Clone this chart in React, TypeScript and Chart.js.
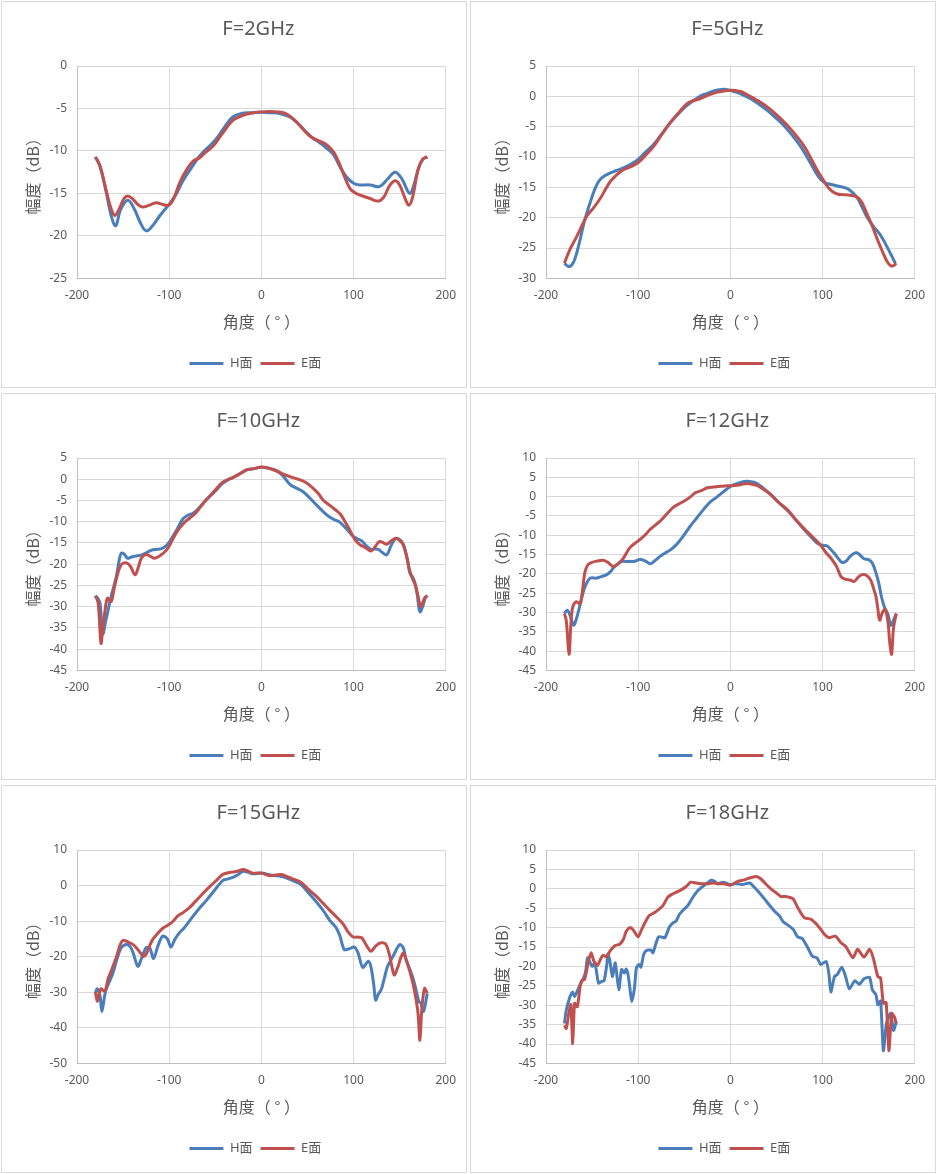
import { useEffect, useRef } from 'react';
import Chart from 'chart.js/auto';

const H_COLOR = '#4a7ebb';
const E_COLOR = '#c0504d';
const TEXT_COLOR = '#595959';
const FONT = "'Noto Sans', 'Noto Sans CJK SC', sans-serif";
const CJK_FONT = "'Noto Sans CJK SC', 'Noto Sans', sans-serif";

const X_TICKS = [-200, -100, 0, 100, 200];
const SERIES_NAMES = ['H面', 'E面'];

// F=2GHz
const ANG_2G_H = [-180, -175, -168, -163, -158, -153, -145, -138, -131, -125, -118, -110, -101, -93, -85, -76, -67, -58, -49, -40, -31, -22, -10, 0, 10, 20, 31, 40, 49, 56, 63, 70, 78, 85, 92, 100, 107, 118, 128, 137, 145, 152, 161, 166, 170, 175, 180];
const H_2G = [-10.7, -11.8, -15.0, -17.6, -18.8, -17.0, -15.8, -16.8, -18.5, -19.4, -18.8, -17.6, -16.4, -15.2, -13.5, -12.0, -10.6, -9.6, -8.6, -7.2, -6.0, -5.6, -5.5, -5.45, -5.5, -5.6, -6.0, -6.8, -7.8, -8.5, -9.0, -9.6, -10.4, -11.8, -13.0, -13.8, -14.0, -14.0, -14.2, -13.3, -12.5, -13.2, -15.0, -13.8, -12.2, -11.0, -10.7];
const ANG_2G_E = [-180, -175, -168, -163, -159, -155, -149, -145, -140, -134, -129, -122, -114, -107, -101, -96, -88, -81, -74, -67, -60, -52, -42, -31, -22, -13, 0, 8, 16, 24, 31, 40, 52, 60, 70, 76, 81, 88, 96, 103, 110, 118, 127, 133, 139, 145, 150, 156, 160, 164, 170, 175, 180];
const E_2G = [-10.7, -11.8, -14.8, -16.8, -17.6, -17.0, -15.6, -15.3, -15.6, -16.3, -16.6, -16.4, -16.1, -16.3, -16.4, -15.8, -13.6, -12.2, -11.2, -10.8, -10.1, -9.4, -7.9, -6.4, -5.9, -5.6, -5.4, -5.35, -5.4, -5.5, -5.9, -6.8, -8.2, -8.7, -9.2, -9.8, -10.6, -12.4, -14.4, -15.0, -15.3, -15.6, -15.9, -15.4, -14.1, -13.5, -14.0, -15.6, -16.4, -15.5, -12.2, -11.0, -10.7];

// F=5GHz
const ANG_5G_H = [-180, -176, -172, -168, -163, -158, -151, -145, -140, -134, -125, -116, -108, -100, -92, -83, -74, -65, -56, -47, -40, -33, -25, -18, -12, -7, -2, 4, 13, 22, 31, 40, 49, 58, 67, 76, 84, 91, 96, 101, 106, 112, 120, 127, 133, 138, 143, 149, 156, 163, 170, 175, 179];
const H_5G = [-27.5, -28.0, -27.8, -26.5, -23.6, -20.4, -17.0, -14.6, -13.5, -12.9, -12.3, -11.8, -11.2, -10.4, -9.2, -7.9, -6.1, -4.3, -2.8, -1.5, -0.7, 0, 0.5, 0.9, 1.1, 1.15, 1.05, 0.8, 0.3, -0.4, -1.3, -2.3, -3.5, -4.8, -6.4, -8.2, -10.2, -12.1, -13.3, -14.1, -14.4, -14.6, -14.9, -15.2, -15.9, -16.8, -18.3, -20.1, -21.6, -22.9, -24.8, -26.3, -27.5];
const ANG_5G_E = [-180, -174, -167, -160, -156, -148, -141, -135, -130, -123, -116, -108, -100, -92, -83, -74, -65, -56, -47, -40, -33, -24, -14, -6, 0, 6, 11, 18, 25, 34, 43, 52, 62, 71, 80, 87, 94, 100, 105, 110, 116, 123, 130, 136, 141, 145, 148, 153, 157, 162, 166, 170, 174, 177, 180];
const E_5G = [-27.5, -25.2, -23.2, -21.0, -19.8, -18.3, -16.8, -15.2, -14.0, -12.9, -12.1, -11.6, -10.9, -9.7, -8.2, -6.2, -4.3, -2.7, -1.2, -0.7, -0.4, 0.2, 0.7, 0.9, 1.0, 0.95, 0.8, 0.3, -0.3, -1.1, -2.1, -3.3, -4.8, -6.4, -8.2, -10.1, -12.1, -13.6, -14.8, -15.6, -16.1, -16.2, -16.3, -16.5, -17.1, -18.2, -19.3, -21.0, -22.6, -24.5, -25.9, -27.2, -27.9, -27.9, -27.5];

// F=10GHz
const ANG_10G_H = [-180, -177, -175, -172, -169, -167, -164, -161, -157, -154, -152, -149, -145, -141, -137, -130, -124, -118, -112, -107, -103, -99, -92, -85, -80, -74, -67, -60, -51, -42, -36, -31, -24, -16, -8, 0, 8, 16, 23, 31, 38, 45, 52, 60, 67, 74, 80, 85, 92, 99, 104, 109, 114, 119, 123, 127, 131, 136, 141, 145, 150, 154, 158, 161, 164, 166, 169, 172, 175, 178, 180];
const H_10G = [-27.4, -28.2, -29.2, -36.4, -33.5, -31.6, -28.5, -26.0, -22.5, -18.8, -17.4, -17.6, -18.6, -18.3, -18.1, -17.8, -17.2, -16.6, -16.5, -16.2, -15.6, -14.5, -12.0, -9.3, -8.5, -8.0, -6.6, -4.9, -3.0, -1.0, -0.1, 0.4, 1.2, 2.2, 2.5, 2.8, 2.6, 2.1, 0.9, -1.2, -2.1, -2.9, -4.3, -6.1, -7.6, -8.9, -9.6, -10.1, -11.6, -13.3, -14.0, -14.5, -15.7, -16.5, -16.4, -16.5, -17.2, -17.8, -15.5, -14.1, -14.2, -15.3, -18.5, -22.0, -23.0, -24.0, -27.0, -31.2, -30.0, -27.8, -27.4];
const ANG_10G_E = [-180, -177, -174, -172, -170, -167, -163, -160, -157, -152, -146, -142, -137, -133, -130, -125, -120, -116, -110, -103, -97, -92, -86, -81, -72, -66, -60, -51, -42, -31, -24, -16, -8, 0, 8, 16, 24, 31, 37, 43, 50, 56, 62, 67, 74, 81, 86, 90, 95, 99, 103, 107, 113, 119, 124, 128, 132, 136, 141, 146, 150, 154, 158, 161, 164, 167, 170, 173, 177, 180];
const E_10G = [-27.4, -29.2, -38.6, -35.0, -31.6, -28.0, -28.8, -26.0, -23.2, -20.1, -19.7, -20.5, -22.5, -20.4, -18.5, -17.7, -18.2, -18.6, -18.0, -16.7, -14.5, -12.5, -10.8, -9.7, -8.1, -6.5, -4.9, -2.8, -0.7, 0.4, 1.2, 2.2, 2.5, 2.9, 2.6, 2.0, 1.2, 0.6, 0.2, -0.2, -1.0, -2.1, -3.4, -4.9, -6.1, -7.3, -8.3, -9.7, -11.6, -13.3, -14.6, -15.4, -16.1, -16.9, -15.7, -14.7, -14.9, -15.3, -14.5, -13.9, -14.4, -15.5, -18.5, -21.6, -23.4, -24.8, -27.5, -30.0, -28.0, -27.4];

// F=12GHz
const ANG_12G_H = [-180, -177, -174, -170, -167, -163, -159, -155, -152, -145, -140, -134, -130, -127, -122, -118, -111, -105, -98, -92, -87, -82, -76, -70, -65, -58, -51, -44, -36, -29, -22, -14, -7, 0, 4, 11, 18, 24, 29, 36, 43, 52, 62, 71, 80, 87, 94, 100, 105, 112, 117, 121, 125, 130, 136, 140, 145, 150, 154, 158, 161, 164, 167, 171, 174, 177, 180];
const H_12G = [-30.3, -29.4, -30.7, -33.3, -31.6, -28.0, -24.2, -22.0, -21.1, -21.1, -20.7, -20.2, -19.4, -18.5, -17.4, -16.8, -16.8, -16.8, -16.3, -16.7, -17.4, -16.6, -15.4, -14.5, -13.8, -12.3, -10.2, -7.8, -5.4, -3.3, -1.4, 0.0, 1.35, 2.6, 3.1, 3.7, 4.0, 3.8, 3.4, 2.1, 0.7, -1.4, -3.6, -6.0, -8.5, -10.3, -12.0, -12.6, -12.8, -14.5, -16.0, -17.0, -16.8, -15.5, -14.5, -15.0, -16.1, -16.3, -17.2, -19.8, -22.4, -26.0, -28.5, -30.5, -33.3, -32.0, -30.3];
const ANG_12G_E = [-180, -178, -175, -173, -171, -167, -163, -160, -158, -155, -152, -145, -138, -133, -127, -121, -116, -109, -103, -98, -92, -87, -80, -76, -69, -62, -55, -49, -43, -38, -31, -25, -18, -11, -4, 4, 11, 18, 24, 29, 36, 43, 52, 62, 71, 80, 89, 98, 104, 109, 115, 120, 125, 130, 134, 139, 143, 147, 152, 155, 158, 160, 162, 165, 168, 171, 173, 175, 177, 180];
const E_12G = [-30.3, -32.1, -40.8, -33.0, -28.6, -27.2, -27.7, -23.5, -19.8, -17.8, -17.2, -16.7, -16.5, -17.0, -18.1, -17.2, -15.9, -13.2, -12.0, -11.1, -9.8, -8.5, -7.1, -6.3, -4.5, -2.8, -1.8, -1.0, 0.0, 1.0, 1.6, 2.3, 2.5, 2.7, 2.8, 2.9, 3.1, 3.4, 3.2, 2.9, 1.9, 0.7, -1.4, -3.4, -6.0, -8.3, -10.4, -12.6, -14.6, -15.9, -18.0, -20.7, -21.4, -21.6, -22.0, -20.8, -20.2, -20.3, -21.5, -23.5, -25.9, -29.0, -32.0, -30.0, -29.2, -32.5, -38.0, -40.8, -34.0, -30.3];

// F=15GHz
const ANG_15G_H = [-180, -178, -175, -173, -170, -168, -164, -161, -157, -152, -146, -142, -139, -134, -130, -125, -121, -117, -112, -107, -102, -98, -94, -89, -84, -74, -67, -60, -51, -42, -36, -31, -25, -20, -14, -9, 0, 6, 13, 20, 27, 34, 42, 51, 60, 67, 74, 78, 81, 85, 90, 95, 101, 105, 110, 116, 119, 122, 124, 127, 130, 133, 137, 143, 150, 154, 157, 161, 164, 167, 171, 173, 176, 180];
const H_15G = [-30.3, -29.0, -31.0, -35.4, -31.0, -28.9, -26.5, -24.6, -21.0, -17.5, -16.6, -17.3, -19.0, -22.7, -20.5, -17.5, -17.6, -20.5, -16.8, -14.2, -15.0, -17.3, -15.2, -13.3, -12.0, -8.6, -6.3, -4.3, -1.4, 1.4, 1.9, 2.3, 3.1, 4.0, 3.7, 3.3, 3.5, 3.2, 2.8, 2.7, 2.2, 1.4, 0.5, -2.0, -4.7, -7.0, -9.7, -10.9, -11.8, -14.0, -18.0, -17.8, -17.3, -19.0, -23.0, -21.3, -23.0, -28.0, -32.2, -30.5, -29.3, -26.5, -22.7, -19.8, -16.6, -17.5, -20.9, -23.5, -25.6, -28.5, -32.7, -33.0, -35.4, -30.3];
const ANG_15G_E = [-180, -178, -176, -174, -171, -169, -166, -163, -160, -157, -153, -150, -145, -139, -134, -128, -125, -121, -118, -113, -107, -102, -96, -91, -85, -78, -71, -63, -56, -49, -42, -36, -31, -25, -20, -14, -9, 0, 9, 16, 22, 28, 34, 40, 45, 52, 60, 67, 74, 81, 89, 94, 99, 105, 109, 114, 119, 124, 130, 135, 139, 144, 148, 151, 154, 158, 161, 164, 167, 170, 172, 174, 177, 180];
const E_15G = [-30.0, -32.5, -30.5, -29.0, -29.6, -29.3, -26.0, -24.1, -22.0, -19.9, -16.5, -15.4, -15.8, -16.6, -18.0, -19.9, -19.3, -16.8, -15.2, -13.6, -12.0, -11.2, -10.1, -8.6, -7.6, -6.2, -4.3, -2.1, -0.3, 1.4, 3.1, 3.6, 3.8, 4.1, 4.5, 4.0, 3.5, 3.5, 2.8, 3.0, 3.1, 2.5, 1.9, 1.3, 0.5, -1.3, -3.1, -5.0, -6.9, -8.7, -10.9, -13.0, -14.4, -14.5, -14.7, -16.8, -18.5, -17.0, -16.1, -16.5, -19.5, -25.1, -23.0, -20.5, -19.0, -21.5, -24.1, -27.0, -30.8, -36.0, -43.5, -35.0, -28.9, -30.3];

// F=18GHz
const ANG_18G_H = [-180, -178, -174, -171, -169, -166, -163, -160, -157, -155, -152, -150, -147, -145, -143, -140, -137, -134, -133, -131, -128, -125, -124, -121, -118, -115, -113, -111, -109, -107, -104, -102, -99, -97, -94, -91, -86, -84, -81, -78, -75, -71, -66, -62, -59, -55, -50, -46, -41, -35, -30, -25, -21, -17, -14, -8, -3, 0, 6, 13, 21, 26, 31, 37, 42, 48, 53, 57, 62, 68, 73, 78, 84, 89, 94, 98, 104, 107, 109, 113, 116, 121, 125, 129, 135, 140, 145, 151, 154, 158, 160, 163, 166, 169, 171, 174, 177, 180];
const H_18G = [-34.7, -31.3, -27.8, -26.6, -27.8, -26.3, -24.7, -23.4, -21.3, -17.8, -19.1, -20.0, -19.1, -21.7, -24.3, -23.9, -23.7, -19.5, -16.8, -18.2, -22.6, -19.1, -20.4, -26.0, -20.8, -21.7, -20.7, -22.1, -25.6, -29.1, -25.6, -20.4, -19.5, -20.2, -16.9, -15.9, -15.8, -16.5, -14.3, -12.4, -12.4, -12.6, -9.8, -8.7, -8.4, -6.5, -5.2, -4.3, -2.3, -0.4, 0.6, 1.5, 2.2, 1.9, 1.3, 1.7, 1.3, 1.1, 1.3, 1.1, 1.5, 0.4, -0.9, -2.6, -4.1, -5.8, -6.9, -8.4, -9.3, -10.4, -12.4, -12.8, -15.2, -17.4, -17.8, -19.5, -18.7, -22.1, -26.6, -22.6, -22.1, -20.2, -22.6, -25.8, -23.7, -24.6, -23.2, -22.8, -26.0, -27.3, -29.9, -28.9, -41.7, -35.2, -33.4, -32.1, -36.5, -34.3];
const ANG_18G_E = [-180, -178, -175, -173, -171, -169, -166, -163, -161, -158, -154, -151, -148, -144, -141, -138, -134, -131, -125, -120, -116, -113, -109, -106, -100, -97, -93, -88, -82, -77, -73, -68, -64, -59, -53, -48, -43, -37, -32, -25, -19, -14, -7, 0, 8, 15, 21, 28, 33, 39, 44, 50, 55, 60, 68, 73, 80, 87, 95, 102, 107, 114, 120, 125, 133, 138, 145, 151, 155, 160, 163, 166, 169, 172, 175, 178, 180];
const E_18G = [-35.2, -36.0, -31.7, -29.8, -39.9, -29.5, -30.4, -25.2, -23.6, -23.3, -18.7, -16.5, -18.7, -19.7, -18.2, -17.1, -17.6, -16.2, -14.6, -14.3, -13.0, -11.0, -10.0, -10.4, -12.4, -10.9, -8.9, -6.9, -6.1, -5.2, -4.3, -2.2, -1.5, -0.9, -0.2, 0.6, 1.7, 1.5, 1.3, 1.3, 1.5, 1.3, 1.3, 0.9, 1.9, 2.3, 2.8, 3.2, 2.6, 1.1, 0.0, -1.1, -2.0, -2.0, -2.6, -4.8, -7.4, -7.8, -9.5, -11.7, -12.6, -12.2, -13.9, -14.8, -17.8, -15.6, -17.6, -15.6, -17.8, -22.6, -23.0, -29.5, -29.3, -41.7, -32.1, -33.0, -34.7];

// y axis ranges: [min, max, step]
const Y_2G = [-25, 0, 5];
const Y_5G = [-30, 5, 5];
const Y_10G = [-45, 5, 5];
const Y_12G = [-45, 10, 5];
const Y_15G = [-50, 10, 10];
const Y_18G = [-45, 10, 5];

const PANEL_LEFTS = [1, 470];
const PANEL_TOPS = [1, 393, 785];

// centre title and legend over the plot area, like Excel does
const centerOnPlot = {
  id: 'centerOnPlot',
  afterLayout(chart: any) {
    const a = chart.chartArea;
    if (chart.titleBlock) {
      chart.titleBlock.left = a.left - 3;
      chart.titleBlock.right = a.right - 3;
    }
    if (chart.legend) {
      chart.legend.left = a.left - 6;
      chart.legend.right = a.right - 6;
    }
  },
};

interface PatternProps {
  title: string;
  hAng: number[];
  hVal: number[];
  eAng: number[];
  eVal: number[];
  yRange: number[];
  tension: number;
  left: number;
  top: number;
  height: number;
}

function toPoints(ang: number[], val: number[]) {
  return ang.map((a, i) => ({ x: a, y: val[i] }));
}

function PatternChart({ title, hAng, hVal, eAng, eVal, yRange, tension, left, top, height }: PatternProps) {
  const canvasRef = useRef<HTMLCanvasElement>(null);
  const chartInstance = useRef<Chart | null>(null);

  useEffect(() => {
    if (!canvasRef.current) return;
    if (chartInstance.current) chartInstance.current.destroy();

    const ctx = canvasRef.current.getContext('2d');
    if (!ctx) return;

    chartInstance.current = new Chart(ctx, {
      type: 'line',
      data: {
        datasets: [
          {
            label: SERIES_NAMES[0],
            data: toPoints(hAng, hVal),
            borderColor: H_COLOR,
            backgroundColor: H_COLOR,
            borderWidth: 3,
            pointRadius: 0,
            tension,
            order: 1,
          },
          {
            label: SERIES_NAMES[1],
            data: toPoints(eAng, eVal),
            borderColor: E_COLOR,
            backgroundColor: E_COLOR,
            borderWidth: 3,
            pointRadius: 0,
            tension,
            order: 0,
          },
        ],
      },
      options: {
        animation: false,
        responsive: false,
        devicePixelRatio: 1,
        layout: { padding: { left: 0, right: 20, top: 0, bottom: 7 } },
        plugins: {
          title: {
            display: true,
            text: title,
            color: TEXT_COLOR,
            font: { family: FONT, size: 20, weight: 'normal' },
            padding: { top: 15, bottom: 25 },
          },
          legend: {
            position: 'bottom',
            labels: {
              usePointStyle: true,
              pointStyle: 'line',
              pointStyleWidth: 34,
              color: TEXT_COLOR,
              font: { family: FONT, size: 13 },
              padding: 8,
              sort: (a: any, b: any) => a.datasetIndex - b.datasetIndex,
            },
          },
          tooltip: { enabled: false },
        },
        scales: {
          x: {
            type: 'linear',
            min: X_TICKS[0],
            max: X_TICKS[X_TICKS.length - 1],
            afterBuildTicks: (scale: any) => {
              scale.ticks = X_TICKS.map(v => ({ value: v }));
            },
            ticks: { color: TEXT_COLOR, font: { family: FONT, size: 12 }, padding: 10 },
            grid: { color: '#d9d9d9', drawTicks: false },
            border: { color: '#bfbfbf' },
            title: {
              display: true,
              text: '角度（ ° ）',
              color: TEXT_COLOR,
              font: { family: CJK_FONT, size: 16 },
              padding: { top: 0, bottom: 17 },
            },
          },
          y: {
            min: yRange[0],
            max: yRange[1],
            ticks: { stepSize: yRange[2], color: TEXT_COLOR, font: { family: FONT, size: 12 }, padding: 10 },
            grid: { color: '#d9d9d9', drawTicks: false },
            border: { color: '#bfbfbf' },
            title: {
              display: true,
              text: '幅度（dB）',
              color: TEXT_COLOR,
              font: { family: CJK_FONT, size: 16 },
              padding: { top: 21, bottom: 0 },
            },
            afterFit: (scale: any) => {
              scale.width = 75;
            },
          },
        },
      },
      plugins: [centerOnPlot],
    } as any);

    return () => {
      if (chartInstance.current) {
        chartInstance.current.destroy();
        chartInstance.current = null;
      }
    };
  }, [title, hAng, hVal, eAng, eVal, yRange, tension]);

  return (
    <div
      style={{
        position: 'absolute',
        left,
        top,
        width: 466,
        height,
        border: '1px solid #d9d9d9',
        boxSizing: 'border-box',
        background: '#fff',
      }}
    >
      <canvas ref={canvasRef} width={464} height={height - 2} style={{ display: 'block' }} />
    </div>
  );
}

export default function App() {
  return (
    <div style={{ position: 'absolute', left: 0, top: 0, width: 936, height: 1174, background: '#fff' }}>
      <PatternChart title="F=2GHz" hAng={ANG_2G_H} hVal={H_2G} eAng={ANG_2G_E} eVal={E_2G} yRange={Y_2G} tension={0.4} left={PANEL_LEFTS[0]} top={PANEL_TOPS[0]} height={387} />
      <PatternChart title="F=5GHz" hAng={ANG_5G_H} hVal={H_5G} eAng={ANG_5G_E} eVal={E_5G} yRange={Y_5G} tension={0.4} left={PANEL_LEFTS[1]} top={PANEL_TOPS[0]} height={387} />
      <PatternChart title="F=10GHz" hAng={ANG_10G_H} hVal={H_10G} eAng={ANG_10G_E} eVal={E_10G} yRange={Y_10G} tension={0.35} left={PANEL_LEFTS[0]} top={PANEL_TOPS[1]} height={387} />
      <PatternChart title="F=12GHz" hAng={ANG_12G_H} hVal={H_12G} eAng={ANG_12G_E} eVal={E_12G} yRange={Y_12G} tension={0.35} left={PANEL_LEFTS[1]} top={PANEL_TOPS[1]} height={387} />
      <PatternChart title="F=15GHz" hAng={ANG_15G_H} hVal={H_15G} eAng={ANG_15G_E} eVal={E_15G} yRange={Y_15G} tension={0.3} left={PANEL_LEFTS[0]} top={PANEL_TOPS[2]} height={388} />
      <PatternChart title="F=18GHz" hAng={ANG_18G_H} hVal={H_18G} eAng={ANG_18G_E} eVal={E_18G} yRange={Y_18G} tension={0.2} left={PANEL_LEFTS[1]} top={PANEL_TOPS[2]} height={388} />
    </div>
  );
}
